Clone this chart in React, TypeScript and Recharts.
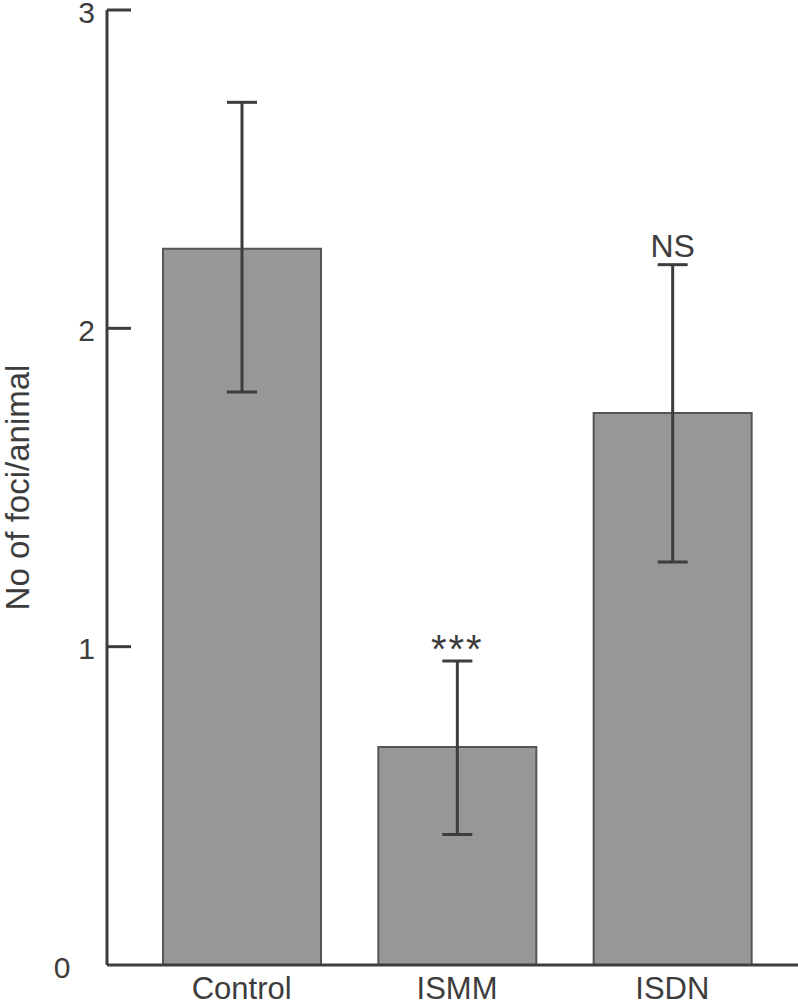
import { Bar, BarChart, ErrorBar, LabelList, XAxis, YAxis } from 'recharts'

const groups = ['Control', 'ISMM', 'ISDN']
const means = [2.25, 0.685, 1.734]
const errLow = [0.45, 0.275, 0.468]
const errHigh = [0.46, 0.27, 0.466]
const marks = ['', '***', 'NS']
const yTicks = [0, 1, 2, 3]

const data = groups.map((g, i) => ({
  name: g,
  value: means[i],
  err: [errLow[i], errHigh[i]],
  mark: marks[i],
}))

const ink = '#3d3d3d'
const font = '"Liberation Sans", Arial, sans-serif'

function YTick(props: any) {
  const { x, y, payload } = props
  const isZero = payload.value === 0
  return (
    <g>
      {!isZero && <line x1={x} y1={y} x2={x + 24} y2={y} stroke={ink} strokeWidth={3} />}
      <text
        x={isZero ? x - 45 : x - 12}
        y={y + 2}
        dy="0.36em"
        textAnchor={isZero ? 'middle' : 'end'}
        fill={ink}
        fontSize={30}
        fontFamily={font}
      >
        {payload.value}
      </text>
    </g>
  )
}

function MarkLabel(props: any) {
  const { x, y, width, height, value, index } = props
  if (!value) return null
  const pxPerUnit = height / means[index]
  const top = y - errHigh[index] * pxPerUnit
  const stars = value === '***'
  return (
    <text
      x={x + width / 2}
      y={stars ? top + 2 : top - 8}
      textAnchor="middle"
      fill={ink}
      fontSize={stars ? 40 : 32}
      letterSpacing={stars ? 2 : 0}
      fontFamily={font}
    >
      {value}
    </text>
  )
}

export default function App() {
  return (
    <div style={{ position: 'absolute', left: 0, top: 0, width: 798, height: 1005, background: '#fff' }}>
      <BarChart width={798} height={1005} data={data} margin={{ top: 10, right: 0, left: 0, bottom: 0 }}>
        <XAxis
          dataKey="name"
          height={40}
          padding={{ left: 27, right: 18 }}
          tickLine={false}
          axisLine={{ stroke: ink, strokeWidth: 3 }}
          tickMargin={6}
          tick={{ fill: ink, fontSize: 31, fontFamily: font }}
        />
        <YAxis
          width={107}
          domain={[0, 3]}
          ticks={yTicks}
          tickSize={0}
          tickMargin={0}
          tickLine={false}
          axisLine={{ stroke: ink, strokeWidth: 3 }}
          tick={<YTick />}
          label={{
            value: 'No of foci/animal',
            angle: -90,
            position: 'insideLeft',
            dx: 12,
            style: { textAnchor: 'middle', fill: ink, fontSize: 33, fontFamily: font },
          }}
        />
        <Bar dataKey="value" barSize={158} fill="#979797" stroke="#555" strokeWidth={2} isAnimationActive={false}>
          <ErrorBar dataKey="err" width={15} stroke={ink} strokeWidth={3} direction="y" />
          <LabelList dataKey="mark" content={<MarkLabel />} />
        </Bar>
      </BarChart>
    </div>
  )
}
